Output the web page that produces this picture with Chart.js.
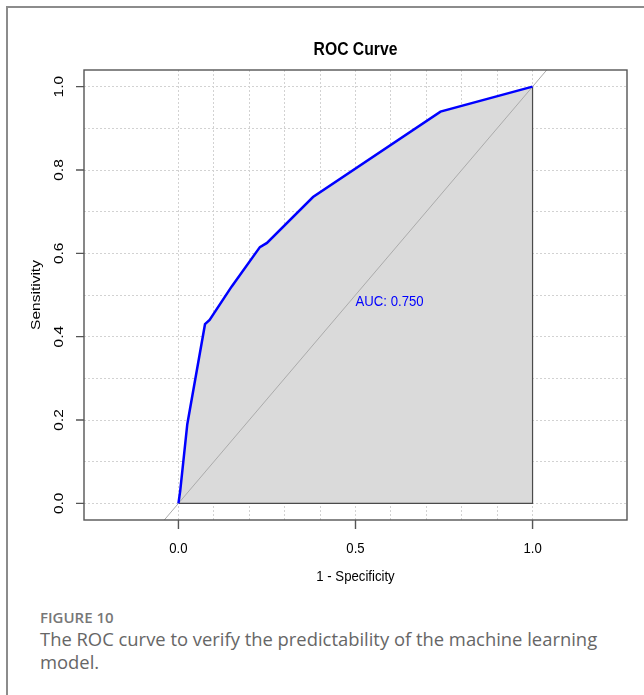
<!DOCTYPE html>
<html>
<head>
<meta charset="utf-8">
<script src="https://cdn.jsdelivr.net/npm/chart.js@4.4.1/dist/chart.umd.min.js"></script>
<style>
  html, body { margin: 0; padding: 0; background: #fff; }
  body { width: 644px; height: 695px; position: relative; overflow: hidden; }
  #frame {
    position: absolute; left: 6px; top: 6px; width: 700px; height: 700px;
    border-top: 2px solid #8c8c8c; border-left: 2px solid #8c8c8c;
  }
  #myChart { position: absolute; left: 0; top: 0; }
  .cap { position: absolute; left: 40px; font-family: "Open Sans", sans-serif; color: #666; }
  #figno { top: 607px; font-size: 15px; font-weight: 600; color: #777; }
  #captext { top: 627px; width: 600px; font-size: 18.4px; line-height: 23px; }
</style>
</head>
<body>
<div id="frame"></div>
<canvas id="myChart" width="644" height="600"></canvas>
<div class="cap" id="figno">FIGURE 10</div>
<div class="cap" id="captext">The ROC curve to verify the predictability of the machine learning model.</div>
<script>
// ROC points: 1 - specificity vs sensitivity
const fpr = [0, 0.005, 0.025, 0.075, 0.088, 0.15, 0.23, 0.25, 0.38, 0.74, 1];
const tpr = [0, 0.03, 0.19, 0.43, 0.44, 0.52, 0.615, 0.625, 0.735, 0.94, 1];
const aucValue = 0.750;

// chance line y = x (clipped to the plot box)
const diagX = [-0.1, 1.1];
const diagY = [-0.1, 1.1];

// outline of the AUC polygon (bottom and right side)
const edgeX = [0, 1, 1];
const edgeY = [0, 0, 1];

const gridTicks = [0, 0.1, 0.2, 0.3, 0.4, 0.5, 0.6, 0.7, 0.8, 0.9, 1];
const xTickLabels = [0, 0.5, 1];
const yTickLabels = [0, 0.2, 0.4, 0.6, 0.8, 1];

const pts = (xs, ys) => xs.map((x, i) => ({ x: x, y: ys[i] }));
const rFont = 'Liberation Sans, Arial, sans-serif';
const squeeze = 0.85; // narrow R text

// text narrowed along its own baseline
function rText(ctx, str, px, py, rot) {
  ctx.save();
  ctx.translate(px, py);
  if (rot) {
    ctx.rotate(rot);
    ctx.scale(1, squeeze);
  } else {
    ctx.scale(squeeze, 1);
  }
  ctx.fillText(str, 0, 0);
  ctx.restore();
}

// box, axes, titles and the AUC label, drawn the way base R does it
const rPlot = {
  id: 'rPlot',
  afterDatasetsDraw(chart) {
    const { ctx, scales: { x, y } } = chart;
    ctx.save();
    ctx.fillStyle = '#0000ff';
    ctx.font = '15.5px ' + rFont;
    ctx.textAlign = 'left';
    ctx.textBaseline = 'top';
    rText(ctx, 'AUC: ' + aucValue.toFixed(3), x.getPixelForValue(0.5), y.getPixelForValue(0.5) - 1);
    ctx.restore();
  },
  afterDraw(chart) {
    const { ctx, chartArea: a, scales: { x, y } } = chart;
    ctx.save();
    ctx.strokeStyle = '#555';
    ctx.lineWidth = 1.4;
    ctx.strokeRect(a.left, a.top, a.right - a.left, a.bottom - a.top);

    ctx.fillStyle = '#000';
    ctx.font = '15.5px ' + rFont;
    ctx.textAlign = 'center';
    ctx.textBaseline = 'middle';
    ctx.beginPath();
    xTickLabels.forEach(v => {
      const px = x.getPixelForValue(v);
      ctx.moveTo(px, a.bottom);
      ctx.lineTo(px, a.bottom + 9);
      rText(ctx, v.toFixed(1), px, a.bottom + 29);
    });
    yTickLabels.forEach(v => {
      const py = y.getPixelForValue(v);
      ctx.moveTo(a.left, py);
      ctx.lineTo(a.left - 8, py);
      rText(ctx, v.toFixed(1), a.left - 25, py, -Math.PI / 2);
    });
    ctx.stroke();

    rText(ctx, '1 - Specificity', (a.left + a.right) / 2, a.bottom + 57);
    rText(ctx, 'Sensitivity', 36, (a.top + a.bottom) / 2, -Math.PI / 2);

    ctx.font = 'bold 18.5px ' + rFont;
    rText(ctx, 'ROC Curve', (a.left + a.right) / 2, 50);
    ctx.restore();
  }
};

const grid = {
  color: '#d2d2d2',
  lineWidth: 1,
  drawTicks: false
};

new Chart(document.getElementById('myChart'), {
  type: 'line',
  data: {
    datasets: [
      {
        data: pts(fpr, tpr),
        borderColor: '#0000ff',
        borderWidth: 2.5,
        pointRadius: 0,
        fill: false,
        order: 0
      },
      {
        data: pts(diagX, diagY),
        borderColor: '#ababab',
        borderWidth: 1,
        pointRadius: 0,
        fill: false,
        order: 1
      },
      {
        data: pts(edgeX, edgeY),
        borderColor: '#4a4a4a',
        borderWidth: 1.2,
        pointRadius: 0,
        fill: false,
        order: 2
      },
      {
        data: pts(fpr, tpr),
        borderWidth: 0,
        borderColor: 'rgba(0,0,0,0)',
        backgroundColor: '#dadada',
        pointRadius: 0,
        fill: 'origin',
        order: 3
      }
    ]
  },
  options: {
    responsive: false,
    animation: false,
    layout: { padding: { left: 84, top: 70, right: 17, bottom: 80 } },
    plugins: { legend: { display: false }, tooltip: { enabled: false } },
    scales: {
      x: {
        type: 'linear',
        min: -0.2667,
        max: 1.2667,
        afterBuildTicks: s => { s.ticks = gridTicks.map(v => ({ value: v })); },
        ticks: { display: false },
        border: { display: false, dash: [2, 2] },
        grid: grid
      },
      y: {
        type: 'linear',
        min: -0.04,
        max: 1.04,
        afterBuildTicks: s => { s.ticks = gridTicks.map(v => ({ value: v })); },
        ticks: { display: false },
        border: { display: false, dash: [2, 2] },
        grid: grid
      }
    }
  },
  plugins: [rPlot]
});
</script>
</body>
</html>
